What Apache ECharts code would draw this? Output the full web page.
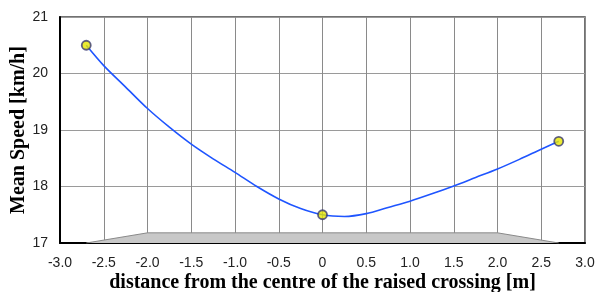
<!DOCTYPE html>
<html>
<head>
<meta charset="utf-8">
<script src="https://cdn.jsdelivr.net/npm/echarts@6/dist/echarts.min.js"></script>
<style>html,body{margin:0;padding:0;background:#fff}#c{width:599px;height:292px}</style>
</head>
<body>
<div id="c"></div>
<script>
// measured points
var pointX = [-2.7, 0, 2.7];
var pointY = [20.5, 17.5, 18.8];
// fitted curve
var curveX = [-2.7, -2.5, -2.25, -2.0, -1.75, -1.5, -1.25, -1.0, -0.75, -0.5, -0.25, 0, 0.25, 0.5, 0.75, 1.0, 1.25, 1.5, 1.75, 2.0, 2.25, 2.5, 2.7];
var curveY = [20.5, 20.14, 19.76, 19.38, 19.05, 18.75, 18.49, 18.25, 18.0, 17.78, 17.61, 17.5, 17.47, 17.52, 17.63, 17.74, 17.87, 18.01, 18.16, 18.31, 18.48, 18.66, 18.8];
// raised crossing profile
var rampX = [-2.7, -2.0, 2.0, 2.7];
var rampY = [17, 17.18, 17.18, 17];

function zip(a, b) { return a.map(function (v, i) { return [v, b[i]]; }); }

var chart = echarts.init(document.getElementById('c'), null, {renderer: 'canvas'});
chart.setOption({
  animation: false,
  backgroundColor: '#fff',
  grid: {left: 60, right: 14, top: 17, bottom: 49, outerBoundsMode: 'none', containLabel: false,
    show: true, borderColor: '#444', borderWidth: 1.5, backgroundColor: 'transparent'},
  xAxis: {
    type: 'value', min: -3, max: 3, interval: 0.5,
    name: 'distance from the centre of the raised crossing [m]',
    nameLocation: 'middle', nameGap: 30, nameMoveOverlap: false,
    nameTextStyle: {fontFamily: 'Liberation Serif', fontWeight: 'bold', fontSize: 20, color: '#000'},
    axisLine: {show: true, onZero: false, lineStyle: {color: '#000', width: 2}},
    axisTick: {show: false},
    axisLabel: {margin: 13, fontFamily: 'Liberation Sans', fontSize: 14, color: '#222',
      formatter: function (v) { return v === 0 ? '0' : v.toFixed(1); }},
    splitLine: {show: true, lineStyle: {color: '#8a8a8a', width: 1}}
  },
  yAxis: {
    type: 'value', min: 17, max: 21, interval: 1,
    name: 'Mean Speed [km/h]',
    nameLocation: 'middle', nameGap: 31, nameMoveOverlap: false,
    nameTextStyle: {fontFamily: 'Liberation Serif', fontWeight: 'bold', fontSize: 20, color: '#000'},
    axisLine: {show: true, onZero: false, lineStyle: {color: '#000', width: 2}},
    axisTick: {show: false},
    axisLabel: {margin: 12, fontFamily: 'Liberation Sans', fontSize: 14, color: '#222'},
    splitLine: {show: true, lineStyle: {color: '#9a9a9a', width: 1}}
  },
  series: [
    {
      type: 'line', data: zip(rampX, rampY), symbol: 'none', z: 1,
      lineStyle: {color: '#8a8a8a', width: 1},
      areaStyle: {color: '#c8c8c8', opacity: 1, origin: 'start'}
    },
    {
      type: 'line', data: zip(curveX, curveY), symbol: 'none', smooth: 0.3, z: 3,
      lineStyle: {color: '#1f55ff', width: 1.6}
    },
    {
      type: 'scatter', data: zip(pointX, pointY), symbol: 'circle', symbolSize: 9, z: 4,
      itemStyle: {color: '#e6e600', borderColor: '#3a3a70', borderWidth: 1.8}
    }
  ]
});
</script>
</body>
</html>
